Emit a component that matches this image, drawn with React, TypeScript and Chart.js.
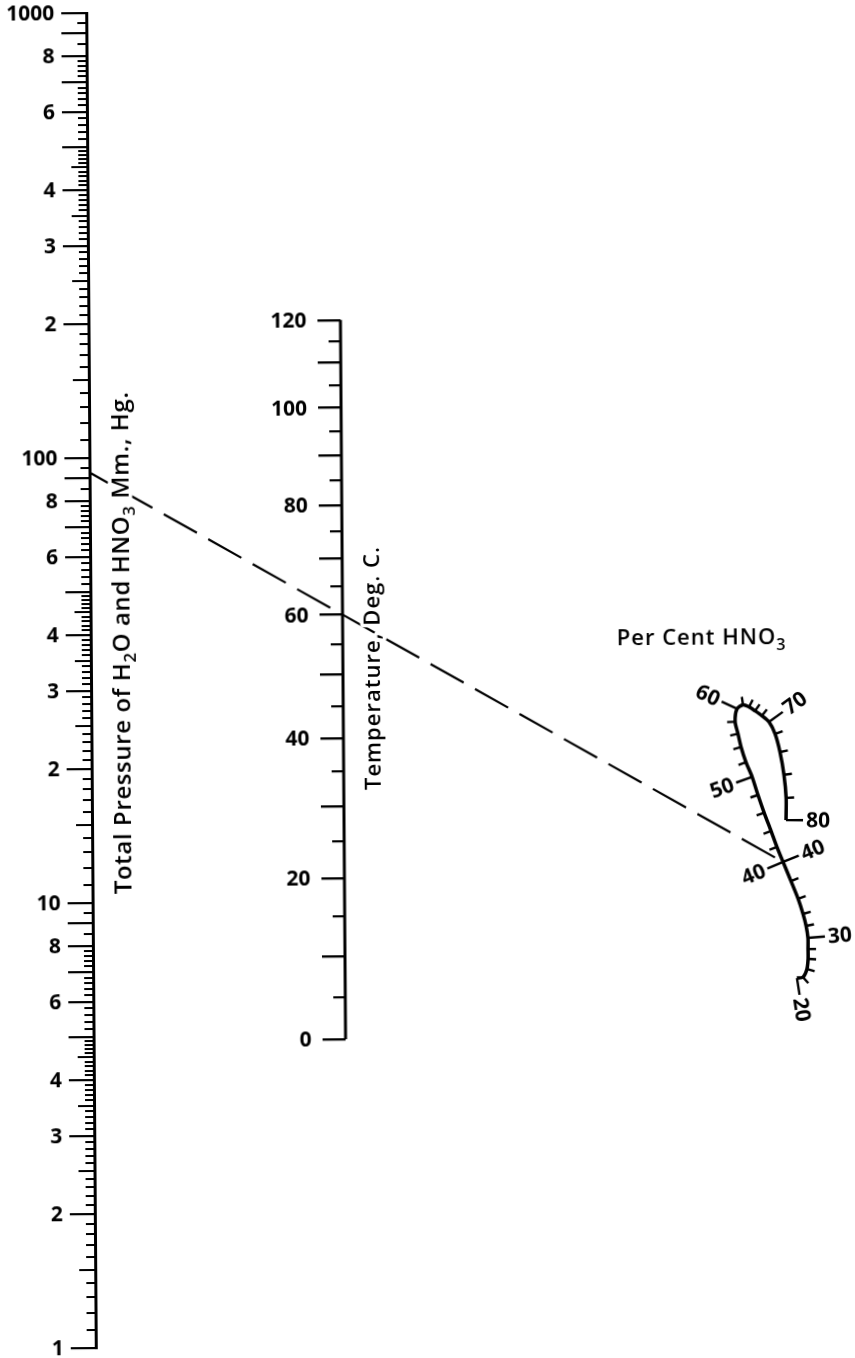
import React, { useEffect, useRef } from 'react';
import { Chart, registerables, LinearScale } from 'chart.js';

Chart.register(...registerables);

// ---------- data ----------
// Pressure scale (mm Hg), logarithmic
const pressureDecades = [1, 10, 100];
const pressureMajorMantissas = [1, 2, 3, 4, 5, 6, 7, 8, 9];
const pressureHalfMantissas = [1.5, 2.5, 3.5, 4.5];
const pressureMinorMantissas = [
  1.1, 1.2, 1.3, 1.4, 1.6, 1.7, 1.8, 1.9,
  2.1, 2.2, 2.3, 2.4, 2.6, 2.7, 2.8, 2.9,
  3.1, 3.2, 3.3, 3.4, 3.6, 3.7, 3.8, 3.9,
  4.1, 4.2, 4.3, 4.4, 4.6, 4.7, 4.8, 4.9,
  5.2, 5.4, 5.6, 5.8, 6.2, 6.4, 6.6, 6.8, 7.2, 7.4, 7.6, 7.8,
  8.5, 9.5,
];
const pressureLabelValues = [1, 2, 3, 4, 6, 8, 10, 20, 30, 40, 60, 80, 100, 200, 300, 400, 600, 800, 1000];
const pressureLabelTexts = ['1', '2', '3', '4', '6', '8', '10', '2', '3', '4', '6', '8', '100', '2', '3', '4', '6', '8', '1000'];

// Temperature scale (deg C)
const temperatureMajorTicks = [0, 10, 20, 30, 40, 50, 60, 70, 80, 90, 100, 110, 120];
const temperatureMinorTicks = [5, 15, 25, 35, 45, 55, 65, 75, 85, 95, 105, 115];
const temperatureLabelValues = [0, 20, 40, 60, 80, 100, 120];

// Per cent HNO3 curve (nomogram coordinates: x = column, v = log-decade height)
const hno3Percent = [20, 22, 24, 26, 28, 30, 32, 34, 36, 38, 40, 42, 44, 46, 48, 50, 52, 54, 56, 58, 60, 62, 64, 66, 68, 70, 72, 74, 76, 78, 80];
const hno3X = [2.800, 2.824, 2.840, 2.845, 2.845, 2.845, 2.838, 2.826, 2.807, 2.779, 2.748, 2.724, 2.701, 2.674, 2.650, 2.627, 2.603, 2.584, 2.572, 2.561, 2.569, 2.593, 2.617, 2.641, 2.668, 2.696, 2.720, 2.739, 2.754, 2.762, 2.761];
const hno3V = [0.820, 0.822, 0.840, 0.863, 0.885, 0.910, 0.937, 0.964, 0.998, 1.038, 1.081, 1.115, 1.151, 1.192, 1.232, 1.273, 1.306, 1.340, 1.370, 1.397, 1.426, 1.435, 1.430, 1.421, 1.410, 1.396, 1.369, 1.328, 1.277, 1.225, 1.175];
const hno3LabelValues = [20, 30, 40, 50, 60, 70, 80];
const hno3SplitPercent = 40; // ticks on one side below, other side above, both at 40

// Example reading (dashed key line)
const keyPressure = 92.5;
const keyTemperature = 60;
const keyPercent = 40;

// ---------- layout constants ----------
const X_MIN = -0.3665;
const X_MAX = 3.0398;
const PRESSURE_COLUMN = 0;
const TEMPERATURE_COLUMN = 1;
const TEMP_AXIS_MIN = -31.475;
const TEMP_AXIS_MAX = 211.39;
const KELVIN = 273.15;
const FONT = '"Open Sans", "DejaVu Sans", sans-serif';
const P_TICK = 24;
const T_TICK = 23;
const SHEET_TILT_DEG = -0.41;

class ReciprocalTemperatureScale extends LinearScale {
  static id = 'reciprocalTemperature';
  static defaults = {};
  tf(t: number) {
    return -1 / (t + KELVIN);
  }
  getPixelForValue(value: number) {
    if (value === null || value === undefined || isNaN(value)) return NaN;
    const lo = this.tf(this.min);
    const hi = this.tf(this.max);
    return this.getPixelForDecimal((this.tf(value) - lo) / (hi - lo));
  }
  getValueForPixel(pixel: number) {
    const lo = this.tf(this.min);
    const hi = this.tf(this.max);
    const g = lo + this.getDecimalForPixel(pixel) * (hi - lo);
    return -1 / g - KELVIN;
  }
}
Chart.register(ReciprocalTemperatureScale as any);

const expand = (mantissas: number[]) => {
  const out: number[] = [];
  pressureDecades.forEach((d) => mantissas.forEach((m) => out.push(m * d)));
  return out;
};

const zeroPad = (s: any) => {
  s.paddingTop = 0;
  s.paddingBottom = 0;
  s.paddingLeft = 0;
  s.paddingRight = 0;
};

type Part = { t: string; sub?: boolean };

function drawRichText(ctx: any, parts: Part[], size: number, weight: string, spacing: number, x: number, y: number, angle: number, align: 'left' | 'center') {
  ctx.save();
  ctx.translate(x, y);
  ctx.rotate(angle);
  ctx.letterSpacing = `${spacing}px`;
  const subSize = Math.round(size * 0.72);
  const fontFor = (p: Part) => `${weight} ${p.sub ? subSize : size}px ${FONT}`;
  const widths = parts.map((p) => {
    ctx.font = fontFor(p);
    return ctx.measureText(p.t).width;
  });
  const total = widths.reduce((a, b) => a + b, 0);
  ctx.textBaseline = 'alphabetic';
  ctx.textAlign = 'left';
  for (const pass of [0, 1]) {
    let cx = align === 'center' ? -total / 2 : 0;
    parts.forEach((p, i) => {
      ctx.font = fontFor(p);
      const dy = p.sub ? size * 0.26 : 0;
      if (pass === 0) {
        ctx.lineWidth = 7;
        ctx.lineJoin = 'round';
        ctx.strokeStyle = '#fff';
        ctx.strokeText(p.t, cx, dy);
      } else {
        ctx.fillStyle = '#000';
        ctx.fillText(p.t, cx, dy);
      }
      cx += widths[i];
    });
  }
  ctx.restore();
}

const nomogramPlugin = {
  id: 'nomogramMarks',
  afterDatasetsDraw(chart: any) {
    const { ctx } = chart;
    const xs = chart.scales.x;
    const ys = chart.scales.y;
    const px = xs.getPixelForValue(PRESSURE_COLUMN);
    const tx = xs.getPixelForValue(TEMPERATURE_COLUMN);

    // axis tick labels
    ctx.save();
    ctx.fillStyle = '#000';
    ctx.textAlign = 'right';
    ctx.textBaseline = 'middle';
    ctx.font = `700 21px ${FONT}`;
    pressureLabelValues.forEach((v, i) => {
      ctx.fillText(pressureLabelTexts[i], px - P_TICK - 9, chart.scales.p.getPixelForValue(v) + 1);
    });
    temperatureLabelValues.forEach((v) => {
      ctx.fillText(String(v), tx - T_TICK - 11, chart.scales.t.getPixelForValue(v) + 1);
    });
    ctx.restore();

    // per cent curve ticks and labels
    const pts = hno3Percent.map((p, i) => ({ p, x: xs.getPixelForValue(hno3X[i]), y: ys.getPixelForValue(hno3V[i]) }));
    ctx.save();
    ctx.strokeStyle = '#000';
    ctx.fillStyle = '#000';
    ctx.lineCap = 'butt';
    pts.forEach((pt, i) => {
      const a = pts[Math.max(0, i - 1)];
      const b = pts[Math.min(pts.length - 1, i + 1)];
      let dx = b.x - a.x;
      let dy = b.y - a.y;
      const len = Math.hypot(dx, dy) || 1;
      dx /= len;
      dy /= len;
      const sides = pt.p < hno3SplitPercent ? [1] : pt.p > hno3SplitPercent ? [-1] : [1, -1];
      const labeled = hno3LabelValues.includes(pt.p);
      const L = labeled ? 17 : 8;
      sides.forEach((s) => {
        const nx = s === 1 ? -dy : dy;
        const ny = s === 1 ? dx : -dx;
        ctx.lineWidth = 2.4;
        ctx.beginPath();
        ctx.moveTo(pt.x, pt.y);
        ctx.lineTo(pt.x + nx * L, pt.y + ny * L);
        ctx.stroke();
        if (labeled) {
          const txt = String(pt.p);
          ctx.font = `700 21px ${FONT}`;
          const w = ctx.measureText(txt).width;
          let ang = Math.atan2(ny, nx);
          // keep text reading upward; near-vertical downward ticks read bottom-to-top
          if (ang > (Math.PI * 5) / 12) ang -= Math.PI;
          if (ang < -Math.PI / 2) ang += Math.PI;
          const d = L + 3 + w / 2;
          ctx.save();
          ctx.translate(pt.x + nx * d, pt.y + ny * d);
          ctx.rotate(ang);
          ctx.textAlign = 'center';
          ctx.textBaseline = 'middle';
          ctx.fillText(txt, 0, 1);
          ctx.restore();
        }
      });
    });
    ctx.restore();

    drawRichText(ctx, [
      { t: 'Total Pressure of H' }, { t: '2', sub: true }, { t: 'O and HNO' }, { t: '3', sub: true }, { t: ' Mm., Hg.' },
    ], 24, '600', 0.6, px + 38, 643, -Math.PI / 2, 'center');
    drawRichText(ctx, [{ t: 'Temperature, Deg. C.' }], 22, '600', 1, tx + 37, 670, -Math.PI / 2, 'center');
    drawRichText(ctx, [{ t: 'Per Cent HNO' }, { t: '3', sub: true }], 22, '600', 1, 617, 649, 0, 'left');
  },
};

export default function App() {
  const ref = useRef<HTMLCanvasElement | null>(null);
  useEffect(() => {
    if (!ref.current) return;
    const k40 = hno3Percent.indexOf(keyPercent);
    const hiddenLabels = { autoSkip: false, callback: () => '' };
    const chart = new Chart(ref.current, {
      type: 'scatter',
      data: {
        datasets: [
          {
            label: 'Temperature scale',
            data: [{ x: TEMPERATURE_COLUMN, y: temperatureMajorTicks[0] }, { x: TEMPERATURE_COLUMN, y: temperatureMajorTicks[temperatureMajorTicks.length - 1] }],
            xAxisID: 'x', yAxisID: 't',
            showLine: true, borderColor: '#000', borderWidth: 3, pointRadius: 0,
          } as any,
          {
            label: 'Per Cent HNO3',
            data: hno3Percent.map((p, i) => ({ x: hno3X[i], y: hno3V[i] })),
            xAxisID: 'x', yAxisID: 'y',
            showLine: true, borderColor: '#000', borderWidth: 3.5, pointRadius: 0, tension: 0.25,
          } as any,
          {
            label: `Key: ${keyPressure} mm, ${keyTemperature} C, ${keyPercent}%`,
            data: [{ x: PRESSURE_COLUMN, y: Math.log10(keyPressure) }, { x: hno3X[k40], y: hno3V[k40] }],
            xAxisID: 'x', yAxisID: 'y',
            showLine: true, borderColor: '#000', borderWidth: 2.2, pointRadius: 0,
            borderDash: [38, 13], borderDashOffset: 18,
          } as any,
        ],
      },
      options: {
        animation: false,
        responsive: false,
        devicePixelRatio: 1,
        layout: { padding: { top: 13, bottom: 10, left: 0, right: 0 } },
        plugins: { legend: { display: false }, tooltip: { enabled: false }, title: { display: false } },
        scales: {
          x: { type: 'linear', min: X_MIN, max: X_MAX, display: false },
          y: { type: 'linear', min: 0, max: 3, display: false },
          p: {
            type: 'logarithmic', axis: 'y', min: 1, max: 1000, position: { x: PRESSURE_COLUMN },
            afterBuildTicks: (s: any) => { s.ticks = expand(pressureMajorMantissas).concat([1000]).map((v) => ({ value: v })); },
            afterFit: zeroPad,
            grid: { drawOnChartArea: false, tickLength: P_TICK, lineWidth: 2.2, tickWidth: 2.2, tickColor: '#000', color: '#000' },
            border: { display: true, width: 3, color: '#000' },
            ticks: hiddenLabels,
          },
          pHalf: {
            type: 'logarithmic', axis: 'y', min: 1, max: 1000, position: { x: PRESSURE_COLUMN },
            afterBuildTicks: (s: any) => { s.ticks = expand(pressureHalfMantissas).map((v) => ({ value: v })); },
            afterFit: zeroPad,
            grid: { drawOnChartArea: false, tickLength: 17, lineWidth: 2, tickWidth: 2, tickColor: '#000' },
            border: { display: false },
            ticks: hiddenLabels,
          },
          pMinor: {
            type: 'logarithmic', axis: 'y', min: 1, max: 1000, position: { x: PRESSURE_COLUMN },
            afterBuildTicks: (s: any) => { s.ticks = expand(pressureMinorMantissas).map((v) => ({ value: v })); },
            afterFit: zeroPad,
            grid: { drawOnChartArea: false, tickLength: 10, lineWidth: 2, tickWidth: 2, tickColor: '#000' },
            border: { display: false },
            ticks: hiddenLabels,
          },
          t: {
            type: 'reciprocalTemperature', axis: 'y', min: TEMP_AXIS_MIN, max: TEMP_AXIS_MAX, position: { x: TEMPERATURE_COLUMN },
            afterBuildTicks: (s: any) => { s.ticks = temperatureMajorTicks.map((v) => ({ value: v })); },
            afterFit: zeroPad,
            grid: { drawOnChartArea: false, tickLength: T_TICK, lineWidth: 2.4, tickWidth: 2.4, tickColor: '#000' },
            border: { display: false },
            ticks: hiddenLabels,
          },
          tMinor: {
            type: 'reciprocalTemperature', axis: 'y', min: TEMP_AXIS_MIN, max: TEMP_AXIS_MAX, position: { x: TEMPERATURE_COLUMN },
            afterBuildTicks: (s: any) => { s.ticks = temperatureMinorTicks.map((v) => ({ value: v })); },
            afterFit: zeroPad,
            grid: { drawOnChartArea: false, tickLength: 12, lineWidth: 2.2, tickWidth: 2.2, tickColor: '#000' },
            border: { display: false },
            ticks: hiddenLabels,
          },
        } as any,
      },
      plugins: [nomogramPlugin],
    } as any);
    return () => chart.destroy();
  }, []);
  return (
    <div style={{ position: 'fixed', left: 0, top: 0, width: 855, height: 1358, background: '#fff', overflow: 'hidden' }}>
      <canvas
        ref={ref}
        width={855}
        height={1358}
        style={{ display: 'block', transform: `rotate(${SHEET_TILT_DEG}deg)`, transformOrigin: '92px 680px' }}
      />
    </div>
  );
}
